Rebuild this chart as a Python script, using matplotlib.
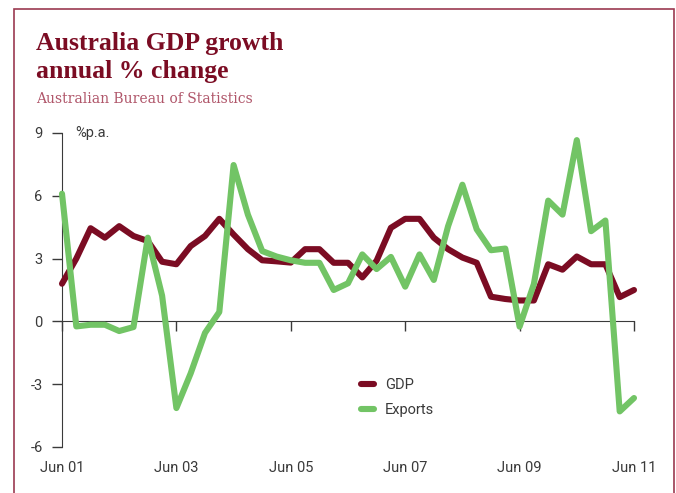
import matplotlib.pyplot as plt
import matplotlib.transforms as mtransforms
from matplotlib.patches import Rectangle

# quarterly annual % change, Jun 2001 .. Jun 2011
gdp = [1.8, 3.0, 4.45, 4.0, 4.55, 4.08, 3.84, 2.85, 2.73, 3.6,
       4.08, 4.9, 4.15, 3.45, 2.92, 2.87, 2.81, 3.45, 3.45, 2.8,
       2.8, 2.1, 2.9, 4.47, 4.9, 4.9, 4.0, 3.45, 3.05, 2.8,
       1.18, 1.07, 1.0, 1.0, 2.73, 2.47, 3.1, 2.73, 2.73, 1.16, 1.5]
exports = [6.1, -0.24, -0.16, -0.16, -0.46, -0.27, 4.0, 1.23, -4.14, -2.48,
           -0.55, 0.45, 7.47, 5.1, 3.36, 3.1, 2.92, 2.8, 2.8, 1.5,
           1.82, 3.2, 2.5, 3.08, 1.66, 3.2, 1.98, 4.55, 6.53, 4.4,
           3.4, 3.48, -0.25, 1.79, 5.77, 5.1, 8.66, 4.31, 4.82, -4.3, -3.66]
quarters = list(range(len(gdp)))
tick_pos = [0, 8, 16, 24, 32, 40]
tick_labels = ['Jun 01', 'Jun 03', 'Jun 05', 'Jun 07', 'Jun 09', 'Jun 11']
yticks = [-6, -3, 0, 3, 6, 9]

maroon = '#7b0c23'
green = '#72c465'
grey = '#3a3a3a'
plt.rcParams['font.family'] = ['Roboto', 'DejaVu Sans']

fig = plt.figure(figsize=(6.76, 4.93), dpi=100)
fig.patches.append(Rectangle((14 / 676, -0.1), 660 / 676, 1 - 9 / 493 + 0.1,
                             transform=fig.transFigure, fill=False,
                             edgecolor='#9b3a50', linewidth=1.2))

# two-line heading, each line placed on its own baseline
for txt, base in [('Australia GDP growth', 50), ('annual % change', 78)]:
    fig.text(36 / 676, 1 - base / 493, txt, family='Liberation Serif',
             weight='bold', fontsize=18.5, color=maroon, va='baseline')
fig.text(36 / 676, 1 - 103 / 493, 'Australian Bureau of Statistics',
         family='DejaVu Serif', fontsize=10, color='#b0566a', va='baseline')

ax = fig.add_axes([62 / 676, 1 - 447 / 493, 572 / 676, 314 / 493])
ax.plot(quarters, gdp, color=maroon, lw=4.4, solid_joinstyle='round',
        solid_capstyle='round', label='GDP', clip_on=False, zorder=3)
ax.plot(quarters, exports, color=green, lw=4.4, solid_joinstyle='round',
        solid_capstyle='round', label='Exports', clip_on=False, zorder=3)

ax.set_xlim(0, 40)
ax.set_ylim(-6, 9)
for s in ['top', 'right']:
    ax.spines[s].set_visible(False)
ax.spines['left'].set_color(grey)
ax.spines['bottom'].set_position(('data', 0))
ax.spines['bottom'].set_color(grey)
ax.spines['bottom'].set_zorder(1)

ax.set_yticks(yticks)
ax.set_yticklabels([str(v) for v in yticks])
ax.set_xticks(tick_pos)
ax.set_xticklabels([])
ax.tick_params(axis='both', direction='out', length=7, width=1, color=grey,
               labelsize=10.5, labelcolor=grey, pad=7)

trans = mtransforms.blended_transform_factory(ax.transData, ax.transAxes)
for p, lab in zip(tick_pos, tick_labels):
    ax.text(p, -0.068, lab, transform=trans, ha='center', va='center',
            fontsize=10.5, color=grey)

ax.text(0.9, 9, '%p.a.', ha='left', va='center', fontsize=10.5, color=grey)

ax.legend(loc='upper left', bbox_to_anchor=(0.5, 0.26), frameon=False,
          handlelength=0.85, handletextpad=0.8, labelspacing=0.75,
          fontsize=10.5, labelcolor=grey)

fig.savefig('out.png', dpi=100)
